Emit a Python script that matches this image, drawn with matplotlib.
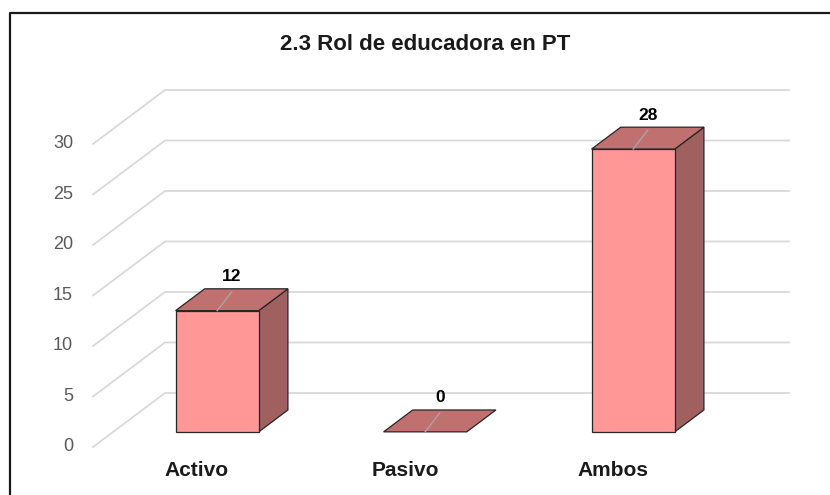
import matplotlib
matplotlib.use('Agg')
import matplotlib.pyplot as plt
from matplotlib.patches import Polygon
from matplotlib.lines import Line2D
from matplotlib.transforms import IdentityTransform

# data
categories = ['Activo', 'Pasivo', 'Ambos']
values = [12, 0, 28]
yticks = [0, 5, 10, 15, 20, 25, 30]
title = '2.3 Rol de educadora en PT'

plt.rcParams['font.family'] = ['Liberation Sans', 'DejaVu Sans']

fig = plt.figure(figsize=(8.3, 4.95), dpi=100)
# axes = back wall of the 3D box
ax = fig.add_axes([0.1988, 0.2061, 0.7518, 0.6121])
ax.set_xlim(-0.5, 2.5)
ax.set_ylim(0, 30)
ax.axis('off')

# floor depth in pixels (back wall -> front edge), oblique projection
DX, DY = -72, -54
front_d, back_d = 0.72, 0.315
bar_w = 0.4


def pt(x, v, d, ox=0, oy=0):
    px, py = ax.transData.transform((x, v))
    return (px + d * DX + ox, py + d * DY + oy)


def face(pts, color, z):
    p = Polygon(pts, closed=True, facecolor=color, edgecolor='#262626',
                lw=0.9, joinstyle='miter', transform=IdentityTransform(),
                clip_on=False, zorder=z)
    ax.add_patch(p)


# gridlines: back wall + left wall
for v in yticks:
    a = pt(-0.5, v, 1)
    b = pt(-0.5, v, 0)
    c = pt(2.5, v, 0)
    ax.add_line(Line2D([a[0], b[0], c[0]], [a[1], b[1], c[1]], color='#d9d9d9',
                       lw=1.3, transform=IdentityTransform(), clip_on=False, zorder=1))
    tx, ty = pt(-0.5, v, 1, ox=-20)
    ax.text(tx, ty, str(v), transform=IdentityTransform(), ha='right', va='center',
            fontsize=13, color='#595959')

# bars
for i, v in enumerate(values):
    x0, x1 = i - bar_w / 2, i + bar_w / 2
    side = [pt(x1, 0, front_d), pt(x1, 0, back_d), pt(x1, v, back_d), pt(x1, v, front_d)]
    top = [pt(x0, v, front_d), pt(x1, v, front_d), pt(x1, v, back_d), pt(x0, v, back_d)]
    front = [pt(x0, 0, front_d), pt(x1, 0, front_d), pt(x1, v, front_d), pt(x0, v, front_d)]
    if v > 0:
        face(side, '#A0605F', 3)
    face(top, '#C0706F', 4)
    if v > 0:
        face(front, '#FF9797', 5)

    # small leader line on the top face
    fx, fy = pt(i, v, front_d)
    cx, cy = pt(i, v, (front_d + back_d) / 2)
    bx, by = pt(i, v, back_d)
    ax.add_line(Line2D([fx, cx], [fy, by - 3], color='#a6a6a6', lw=1,
                       transform=IdentityTransform(), clip_on=False, zorder=6))

    # value label
    ax.text(cx, cy + 23, str(v), transform=IdentityTransform(), ha='center', va='center',
            fontsize=12.5, fontweight='bold', color='black', zorder=7)

    # category label
    lx, ly = pt(i, 0, 1, oy=-24)
    ax.text(lx, ly, categories[i], transform=IdentityTransform(), ha='center', va='center',
            fontsize=15, fontweight='bold', color='#1a1a1a')

# title
fig.text(425 / 830, 1 - 45 / 495, title, ha='center', va='center',
         fontsize=16, fontweight='bold', color='#1a1a1a')

# chart border (cut off at right and bottom)
fig.add_artist(Line2D([10 / 830, 10 / 830, 1], [0, 1 - 13 / 495, 1 - 13 / 495],
                      color='#1a1a1a', lw=1.6, transform=fig.transFigure))

fig.savefig('out.png', dpi=100)
